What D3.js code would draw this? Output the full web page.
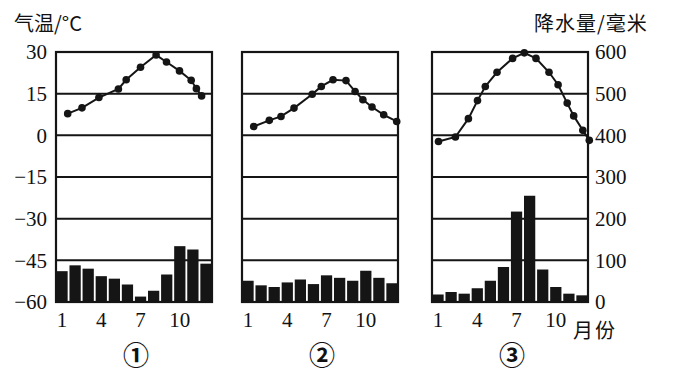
<!DOCTYPE html>
<html>
<head>
<meta charset="utf-8">
<script src="https://cdn.jsdelivr.net/npm/d3@7"></script>
<style>
  body { margin: 0; background: #fff; }
  text { fill: #111; }
</style>
</head>
<body>
<div id="chart"></div>
<script>
// month categories and tick labels
var months = [1, 2, 3, 4, 5, 6, 7, 8, 9, 10, 11, 12];
var monthTicks = [1, 4, 7, 10];
var tempTicks = [-60, -45, -30, -15, 0, 15, 30];
var precipTicks = [0, 100, 200, 300, 400, 500, 600];
var panelNames = ["①", "②", "③"];

// precipitation (mm) per month
var precip1 = [74, 88, 80, 62, 56, 42, 13, 27, 66, 134, 126, 92];
var precip2 = [51, 40, 36, 47, 54, 43, 64, 58, 51, 75, 58, 45];
var precip3 = [18, 24, 20, 33, 51, 84, 217, 255, 78, 36, 20, 16];

// temperature curve points (month position, degC)
var tempX1 = [1.4, 2.5, 3.8, 5.3, 5.9, 7.0, 8.2, 9.0, 10.0, 10.9, 11.3, 11.7];
var temp1  = [7.8, 9.9, 13.6, 16.7, 20.0, 24.5, 28.9, 26.4, 23.2, 19.8, 16.8, 14.2];
var tempX2 = [1.4, 2.6, 3.5, 4.5, 5.9, 6.6, 7.5, 8.5, 9.2, 9.8, 10.5, 11.4, 12.4];
var temp2  = [3.2, 5.4, 6.8, 9.8, 14.8, 17.6, 20.0, 19.7, 15.8, 12.8, 10.2, 7.4, 5.0];
var tempX3 = [1.0, 2.3, 3.3, 4.0, 4.6, 5.5, 6.7, 7.6, 8.5, 9.5, 10.2, 10.9, 11.4, 12.1, 12.6];
var temp3  = [-2.2, -0.6, 6.0, 12.5, 17.6, 22.7, 27.7, 29.7, 27.7, 22.7, 18.2, 11.6, 7.0, 1.8, -1.8];

var panels = [
  {precip: precip1, tx: tempX1, t: temp1, left: 56},
  {precip: precip2, tx: tempX2, t: temp2, left: 242},
  {precip: precip3, tx: tempX3, t: temp3, left: 432}
];

var width = 679, height = 376;
var plotTop = 52, plotBottom = 302, pw = 156;
var serif = "'Liberation Serif', 'DejaVu Serif', serif";
var cjk = "'Noto Sans CJK SC', sans-serif";

var svg = d3.select("#chart").append("svg")
  .attr("width", width)
  .attr("height", height);

var yT = d3.scaleLinear().domain([-60, 30]).range([plotBottom, plotTop]);
var yP = d3.scaleLinear().domain([0, 600]).range([plotBottom, plotTop]);

panels.forEach(function(p, i) {
  var g = svg.append("g").attr("transform", "translate(" + p.left + ",0)");

  var xb = d3.scaleBand().domain(months).range([0, pw]).paddingInner(0.14).paddingOuter(0.03);
  var xl = d3.scaleLinear().domain([0.5, 12.5]).range([0, pw]);

  // bars
  g.selectAll("rect.bar")
    .data(p.precip)
    .enter().append("rect")
    .attr("class", "bar")
    .attr("x", function(d, j) { return xb(months[j]); })
    .attr("width", xb.bandwidth())
    .attr("y", function(d) { return yP(d); })
    .attr("height", function(d) { return yP(0) - yP(d); })
    .attr("fill", "#151515");

  // gridlines
  g.selectAll("line.grid")
    .data(tempTicks)
    .enter().append("line")
    .attr("x1", 0).attr("x2", pw)
    .attr("y1", function(d) { return yT(d); })
    .attr("y2", function(d) { return yT(d); })
    .attr("stroke", "#151515")
    .attr("stroke-width", 2);

  // frame
  g.append("rect")
    .attr("x", 0).attr("y", plotTop)
    .attr("width", pw).attr("height", plotBottom - plotTop)
    .attr("fill", "none")
    .attr("stroke", "#151515")
    .attr("stroke-width", 2.2);

  // temperature line
  var pts = p.t.map(function(d, j) { return [p.tx[j], d]; });
  g.append("path")
    .datum(pts)
    .attr("fill", "none")
    .attr("stroke", "#151515")
    .attr("stroke-width", 2)
    .attr("d", d3.line()
      .x(function(d) { return xl(d[0]); })
      .y(function(d) { return yT(d[1]); }));

  g.selectAll("circle")
    .data(pts)
    .enter().append("circle")
    .attr("cx", function(d) { return xl(d[0]); })
    .attr("cy", function(d) { return yT(d[1]); })
    .attr("r", 3.8)
    .attr("fill", "#151515");

  // month axis
  var ax = g.append("g")
    .attr("transform", "translate(0," + (plotBottom + 6) + ")")
    .call(d3.axisBottom(xb).tickValues(monthTicks).tickSize(0).tickPadding(4));
  ax.select(".domain").remove();
  ax.selectAll("text")
    .style("font-family", serif)
    .style("font-size", "21px")
    .attr("fill", "#111");

  // panel number
  g.append("text")
    .attr("x", pw / 2 + 2)
    .attr("y", 365)
    .attr("text-anchor", "middle")
    .style("font-family", cjk)
    .style("font-size", "26px")
    .style("font-weight", "bold")
    .text(panelNames[i]);
});

// left temperature axis
var axL = svg.append("g")
  .attr("transform", "translate(47,0)")
  .call(d3.axisLeft(yT).tickValues(tempTicks).tickSize(0).tickPadding(0));
axL.select(".domain").remove();
axL.selectAll("text")
  .style("font-family", serif)
  .style("font-size", "21px")
  .attr("fill", "#111");

// right precipitation axis
var axR = svg.append("g")
  .attr("transform", "translate(595,0)")
  .call(d3.axisRight(yP).tickValues(precipTicks).tickSize(0).tickPadding(0));
axR.select(".domain").remove();
axR.selectAll("text")
  .style("font-family", serif)
  .style("font-size", "21px")
  .attr("fill", "#111");

// axis titles
svg.append("text")
  .attr("x", 14).attr("y", 31)
  .style("font-family", cjk)
  .style("font-size", "20px")
  .text("气温/°C");

svg.append("text")
  .attr("x", 534).attr("y", 31)
  .style("font-family", cjk)
  .style("font-size", "20px")
  .attr("letter-spacing", "1px")
  .text("降水量/毫米");

svg.append("text")
  .attr("x", 573).attr("y", 338)
  .style("font-family", cjk)
  .style("font-size", "20px")
  .attr("letter-spacing", "2px")
  .text("月份");
</script>
</body>
</html>
